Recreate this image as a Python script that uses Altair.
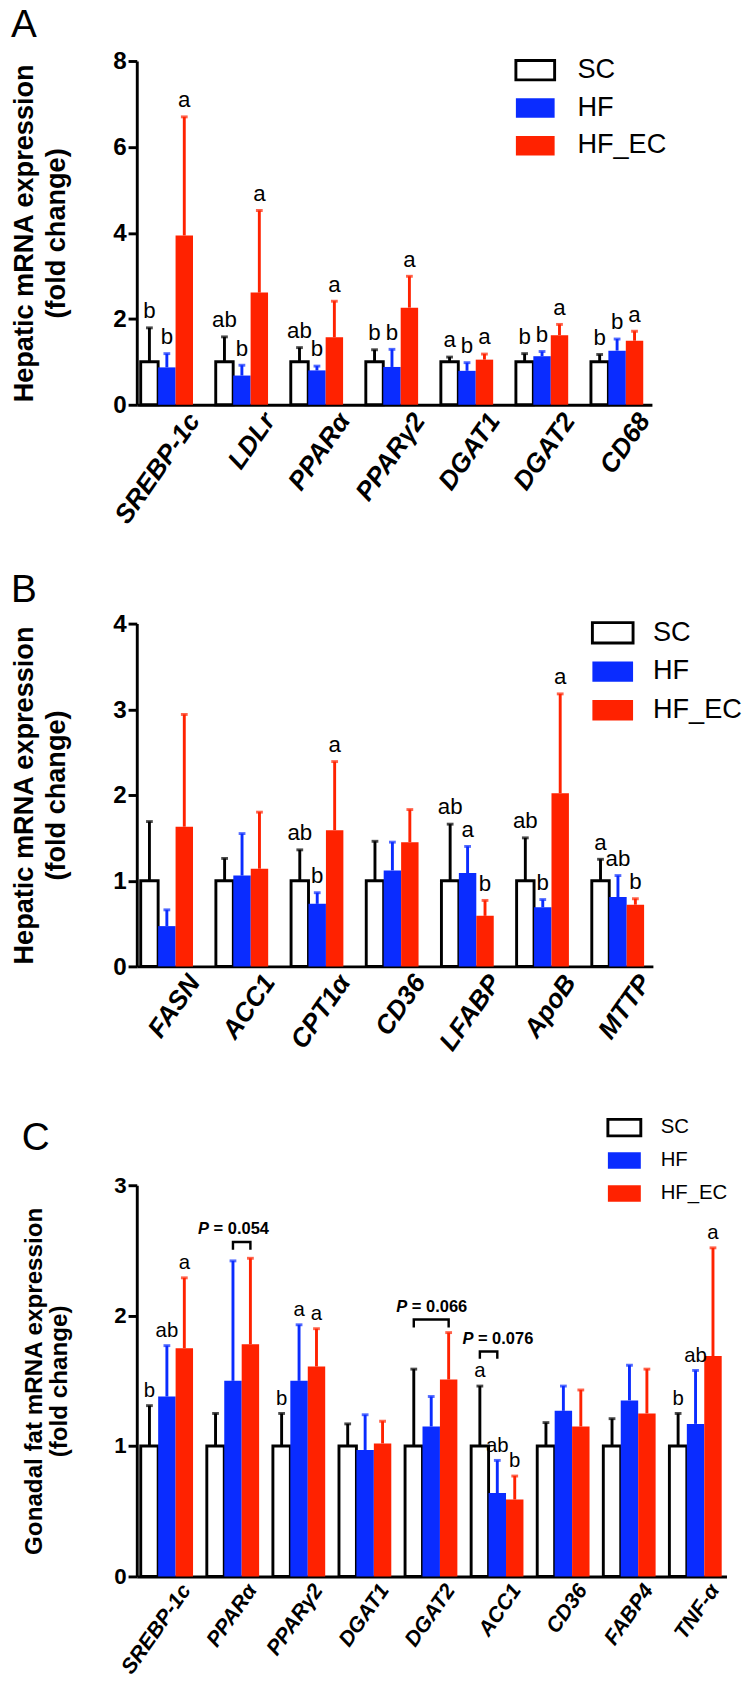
import altair as alt
import pandas as pd

FONT = "Liberation Sans"
BLUE = "#0A2CFF"
RED = "#FF2200"
groups = ["SC", "HF", "HF_EC"]

# ---------------- Panel A ----------------
genes_a = ["SREBP-1c", "LDLr", "PPARα", "PPARγ2", "DGAT1", "DGAT2", "CD68"]
sc_a = [1.0, 1.0, 1.0, 1.0, 1.0, 1.0, 1.0]
sc_a_up = [1.79, 1.58, 1.33, 1.28, 1.11, 1.19, 1.17]
hf_a = [0.87, 0.68, 0.80, 0.88, 0.79, 1.13, 1.26]
hf_a_up = [1.19, 0.92, 0.90, 1.29, 0.98, 1.24, 1.53]
ec_a = [3.94, 2.61, 1.57, 2.26, 1.05, 1.62, 1.49]
ec_a_up = [6.70, 4.52, 2.41, 2.99, 1.18, 1.87, 1.71]
sc_a_let = ["b", "ab", "ab", "b", "a", "b", "b"]
hf_a_let = ["b", "b", "b", "b", "b", "b", "b"]
ec_a_let = ["a", "a", "a", "a", "a", "a", "a"]

# ---------------- Panel B ----------------
genes_b = ["FASN", "ACC1", "CPT1α", "CD36", "LFABP", "ApoB", "MTTP"]
sc_b = [1.0, 1.0, 1.0, 1.0, 1.0, 1.0, 1.0]
sc_b_up = [1.69, 1.26, 1.36, 1.46, 1.66, 1.50, 1.25]
hf_b = [0.47, 1.06, 0.73, 1.12, 1.09, 0.69, 0.81]
hf_b_up = [0.66, 1.55, 0.86, 1.45, 1.40, 0.78, 1.06]
ec_b = [1.63, 1.14, 1.59, 1.45, 0.59, 2.02, 0.72]
ec_b_up = [2.94, 1.80, 2.39, 1.83, 0.77, 3.18, 0.79]
sc_b_let = ["", "", "ab", "", "ab", "ab", "a"]
hf_b_let = ["", "", "b", "", "a", "b", "ab"]
ec_b_let = ["", "", "a", "", "b", "a", "b"]

# ---------------- Panel C ----------------
genes_c = ["SREBP-1c", "PPARα", "PPARγ2", "DGAT1", "DGAT2", "ACC1", "CD36", "FABP4", "TNF-α"]
sc_c = [1.0, 1.0, 1.0, 1.0, 1.0, 1.0, 1.0, 1.0, 1.0]
sc_c_up = [1.31, 1.25, 1.25, 1.17, 1.59, 1.46, 1.18, 1.21, 1.25]
hf_c = [1.38, 1.50, 1.50, 0.97, 1.15, 0.64, 1.27, 1.35, 1.17]
hf_c_up = [1.77, 2.42, 1.93, 1.24, 1.38, 0.89, 1.46, 1.62, 1.58]
ec_c = [1.75, 1.78, 1.61, 1.02, 1.51, 0.59, 1.15, 1.25, 1.69]
ec_c_up = [2.29, 2.44, 1.90, 1.19, 1.87, 0.77, 1.43, 1.59, 2.52]
sc_c_let = ["b", "", "b", "", "", "a", "", "", "b"]
hf_c_let = ["ab", "", "a", "", "", "ab", "", "", "ab"]
ec_c_let = ["a", "", "a", "", "", "b", "", "", "a"]

# brackets (panel C)
br_genes = ["PPARα", "DGAT2", "ACC1"]
br_from = ["HF", "SC", "SC"]
br_to = ["HF_EC", "HF_EC", "HF"]
br_top = [2.565, 1.97, 1.725]
br_low = [2.505, 1.91, 1.67]
br_text = ["= 0.054", "= 0.066", "= 0.076"]


def make_df(genes, sc, sc_up, hf, hf_up, ec, ec_up, sl, hl, el):
    rows = []
    for i, g in enumerate(genes):
        for grp, m, u, l in [("SC", sc[i], sc_up[i], sl[i]),
                             ("HF", hf[i], hf_up[i], hl[i]),
                             ("HF_EC", ec[i], ec_up[i], el[i])]:
            rows.append(dict(gene=g, group=grp, mean=m, upper=u, letter=l))
    return pd.DataFrame(rows)


def panel(df, genes, letter, width, height, ymax, ystep, title_lines, tfs, tlh, tpad,
          yfs, xfs, xoff, letfs, pin, pout, pal, leg_x, leg_y, leg_size, leg_fs, leg_off,
          title_offset, extra=None):
    xs = alt.Scale(paddingInner=pin, paddingOuter=pout, align=pal)
    x_axis = alt.Axis(labelAngle=-55, labelAlign="right", labelBaseline="top",
                      labelFontSize=xfs, labelFontWeight="bold", labelFontStyle="italic",
                      labelFont=FONT, labelColor="black", ticks=False, labelPadding=4,
                      labelOffset=xoff, domainWidth=3, domainColor="black",
                      labelOverlap=False, labelLimit=0, title=None)
    x_main = alt.X("gene:N", sort=genes, scale=xs, axis=x_axis, title=None)
    x_plain = alt.X("gene:N", sort=genes)
    xo = alt.XOffset("group:N", sort=groups, scale=alt.Scale(paddingInner=0, paddingOuter=0))
    ysc = alt.Scale(domain=[0, ymax], nice=False, zero=True)
    y_axis = alt.Axis(values=list(range(0, ymax + 1, ystep)),
                      titleFontSize=tfs, titleFont=FONT, titleFontWeight="bold",
                      titleLineHeight=tlh, titlePadding=tpad, titleColor="black",
                      labelFontSize=yfs, labelFontWeight="bold", labelFont=FONT,
                      labelColor="black", tickSize=9, tickWidth=3, tickColor="black",
                      labelPadding=2, domainWidth=3, domainColor="black", grid=False,
                      format="d")
    legend = alt.Legend(title=None, orient="none", legendX=leg_x, legendY=leg_y,
                        symbolType="M-1,-0.5H1V0.5H-1Z", symbolSize=leg_size,
                        symbolStrokeWidth=3, labelFont=FONT, labelFontSize=leg_fs,
                        labelColor="black", labelOffset=leg_off, rowPadding=1, padding=0)
    fill = alt.Fill("group:N", sort=groups,
                    scale=alt.Scale(domain=groups, range=["white", BLUE, RED]), legend=legend)
    stroke = alt.Stroke("group:N", sort=groups,
                        scale=alt.Scale(domain=groups, range=["black", "transparent", "transparent"]),
                        legend=legend)
    ecolor = alt.Color("group:N", scale=alt.Scale(domain=groups, range=["black", BLUE, RED]),
                       legend=None)
    base = alt.Chart(df)
    bars = base.mark_bar(strokeWidth=3).encode(
        x=x_main, xOffset=xo,
        y=alt.Y("mean:Q", scale=ysc, axis=y_axis, title=title_lines),
        fill=fill, stroke=stroke)
    err = base.mark_rule(strokeWidth=3).encode(
        x=x_plain, xOffset=xo, y=alt.Y("mean:Q"), y2="upper:Q", color=ecolor)
    cap = base.mark_tick(thickness=3, size=7).encode(
        x=x_plain, xOffset=xo, y=alt.Y("upper:Q"), color=ecolor)
    lets = base.mark_text(baseline="bottom", dy=-5, fontSize=letfs, font=FONT,
                          color="black").encode(
        x=x_plain, xOffset=xo, y=alt.Y("upper:Q"), text="letter:N")
    layers = [bars, err, cap, lets]
    if extra is not None:
        layers += extra(x_plain, xo)
    return alt.layer(*layers).properties(
        width=width, height=height,
        title=alt.TitleParams(letter, anchor="start", fontSize=40, fontWeight="normal",
                              font=FONT, color="black", offset=title_offset))


df_a = make_df(genes_a, sc_a, sc_a_up, hf_a, hf_a_up, ec_a, ec_a_up, sc_a_let, hf_a_let, ec_a_let)
df_b = make_df(genes_b, sc_b, sc_b_up, hf_b, hf_b_up, ec_b, ec_b_up, sc_b_let, hf_b_let, ec_b_let)
df_c = make_df(genes_c, sc_c, sc_c_up, hf_c, hf_c_up, ec_c, ec_c_up, sc_c_let, hf_c_let, ec_c_let)

br_rows = []
for i, g in enumerate(br_genes):
    br_rows += [dict(id=i, seq=0, gene=g, group=br_from[i], v=br_low[i]),
                dict(id=i, seq=1, gene=g, group=br_from[i], v=br_top[i]),
                dict(id=i, seq=2, gene=g, group=br_to[i], v=br_top[i]),
                dict(id=i, seq=3, gene=g, group=br_to[i], v=br_low[i])]
df_br = pd.DataFrame(br_rows)
df_pt = pd.DataFrame(dict(gene=br_genes, group=["HF"] * 3, v=br_top, txt=br_text))


def brackets(x_plain, xo):
    line = alt.Chart(df_br).mark_line(color="black", strokeWidth=2.5).encode(
        x=x_plain, xOffset=xo, y=alt.Y("v:Q"), detail="id:N", order="seq:Q")
    p = alt.Chart(df_pt).mark_text(text="P", fontStyle="italic", fontWeight="bold",
                                   fontSize=17, font=FONT, align="left", baseline="bottom",
                                   dx=-36, dy=-4, color="black").encode(
        x=x_plain, xOffset=xo, y=alt.Y("v:Q"))
    t = alt.Chart(df_pt).mark_text(fontWeight="bold", fontSize=17, font=FONT, align="left",
                                   baseline="bottom", dx=-20, dy=-4, color="black").encode(
        x=x_plain, xOffset=xo, y=alt.Y("v:Q"), text="txt:N")
    return [line, p, t]


hep_title = ["Hepatic mRNA expression", "(fold change)"]
A = panel(df_a, genes_a, "A", 532, 355, 8, 2, hep_title, 28, 33, 44, 25, 27, 18, 23,
          0.303, 0.084, 0.31, 390, -12, 1600, 28, 22, 5)
B = panel(df_b, genes_b, "B", 533, 354, 4, 1, hep_title, 28, 33, 44, 25, 27, 18, 23,
          0.303, 0.084, 0.31, 469, -13, 1764, 28, 19, 1)
C = panel(df_c, genes_c, "C", 609, 404, 3, 1, ["Gonadal fat mRNA expression", "(fold change)"],
          25, 26, 44, 23, 22, 14, 21, 0.282, 0.103, 0.29, 485, -78, 1156, 21, 19, -50,
          extra=brackets)

chart = alt.concat(A, B, C, columns=1, spacing=226, bounds="flush", align="each").resolve_scale(
    fill="independent", stroke="independent", color="independent"
).resolve_legend(fill="independent", stroke="independent").properties(
    padding={"left": 3, "top": -30, "right": 0, "bottom": 0}).configure_view(stroke=None)
chart.save("out.html", embed_options={"renderer": "svg", "actions": False})
